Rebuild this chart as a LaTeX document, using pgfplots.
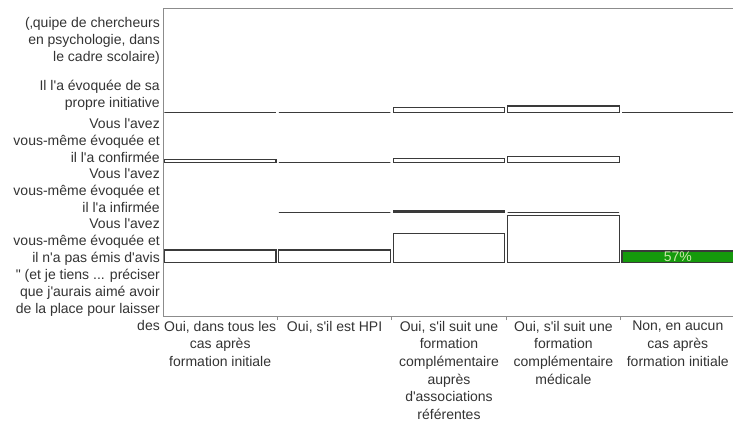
\documentclass[border=0pt]{standalone}
\usepackage{pgfplots}
\pgfplotsset{compat=1.18}
\usepackage{fontspec}
\setmainfont{Liberation Sans}[Ligatures=TeXOff]

\definecolor{txt}{HTML}{333333}
\definecolor{edge}{HTML}{3A3A3A}
\definecolor{framec}{HTML}{8C8C8C}
\definecolor{vert}{HTML}{159A0C}
\definecolor{lbl}{HTML}{C9E7A9}
\newcommand\pts{...}

\pgfplotsset{
  rowax/.style={scale only axis, width=572bp, height=50bp,
    xmin=0, xmax=5, ymin=0, ymax=50, hide axis, clip=false,
    anchor=south west},
  bars/.style={ybar, bar width=0.975, bar shift=0pt, draw=edge,
    fill=white, line width=1.1bp},
}

\begin{document}
\begin{tikzpicture}[font=\fontsize{14bp}{17bp}\selectfont]
\useasboundingbox (0,0) rectangle (733bp,423bp);

% frame with the category labels
\begin{axis}[
    at={(163bp,107bp)}, anchor=south west,
    scale only axis, width=572bp, height=307bp,
    xmin=0, xmax=5, ymin=0, ymax=307,
    axis line style={framec, line width=1bp},
    tick pos=left,
    xtick={0.5,1.5,2.5,3.5,4.5},
    xticklabels={
      {Oui, dans tous les\\cas après\\formation initiale},
      {Oui, s'il est HPI},
      {Oui, s'il suit une\\formation\\complémentaire\\auprès\\d'associations\\référentes},
      {Oui, s'il suit une\\formation\\complémentaire\\médicale},
      {Non, en aucun\\cas après\\formation initiale}},
    minor xtick={1,2,3,4},
    major tick length=0pt, minor tick length=4bp, tick align=outside,
    minor tick style={framec, line width=1bp},
    xticklabel style={align=center, anchor=north, inner sep=0pt,
      yshift=-5bp, text=txt, font=\fontsize{14bp}{17.6bp}\selectfont},
    ytick={16.5,74,126,176,220.5,275.5},
    yticklabels={
      {" (et je tiens \pts{} préciser\\que j'aurais aimé avoir\\de la place pour laisser\\des},
      {Vous l'avez\\vous-même évoquée et\\il n'a pas émis d'avis},
      {Vous l'avez\\vous-même évoquée et\\il l'a infirmée},
      {Vous l'avez\\vous-même évoquée et\\il l'a confirmée},
      {Il l'a évoquée de sa\\propre initiative},
      {(‚quipe de chercheurs\\en psychologie, dans\\le cadre scolaire)}},
    yticklabel style={align=right, anchor=east, inner sep=0pt,
      xshift=-3bp, text=txt},
]
\end{axis}

% Il l'a évoquée de sa propre initiative
\begin{axis}[rowax, at={(163bp,310.5bp)}]
\addplot[bars] coordinates {(0.5,0)(1.5,0)(2.5,5)(3.5,6.5)(4.5,0)};
\end{axis}

% ... il l'a confirmée
\begin{axis}[rowax, at={(163bp,260.5bp)}]
\addplot[bars] coordinates {(0.5,3)(1.5,0)(2.5,4)(3.5,6)};
\end{axis}

% ... il l'a infirmée
\begin{axis}[rowax, at={(163bp,210.5bp)}]
\addplot[bars] coordinates {(1.5,0)(2.5,1.5)(3.5,0)};
\end{axis}

% ... il n'a pas émis d'avis
\begin{axis}[rowax, at={(163bp,160.5bp)}]
\addplot[bars] coordinates {(0.5,12.5)(1.5,12.5)(2.5,29)(3.5,47)};
\addplot[bars, fill=vert, point meta=explicit symbolic,
    nodes near coords,
    every node near coord/.append style={anchor=center, yshift=-5.75bp,
      text=lbl, inner sep=0pt}]
  coordinates {(4.5,11.5) [57\%]};
\end{axis}
\end{tikzpicture}
\end{document}
